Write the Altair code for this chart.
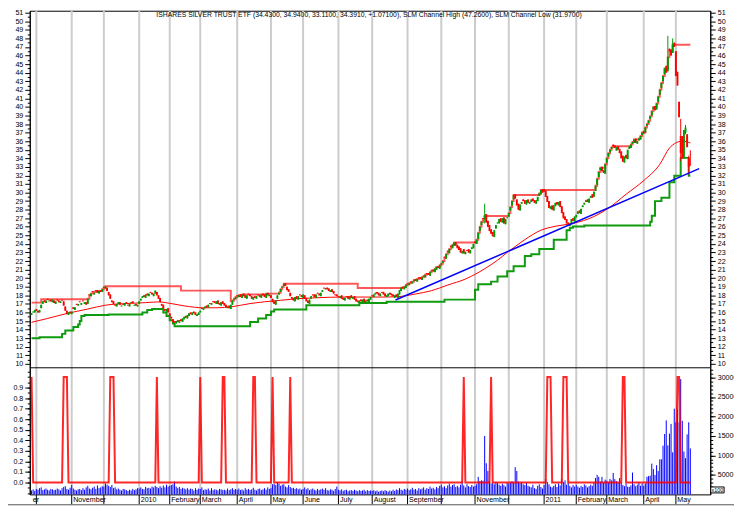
import altair as alt
import pandas as pd

# ---------------- data ----------------
# daily closes, trading-day index 0 .. 410 (28 Sep 2009 .. 13 May 2011)
close = (
    [15.9,16.1,16.3,16.2,16.0,16.3,16.9,17.3,17.2,17.4,17.5,17.4,17.3,17.5,17.1,17.3,17.4,17.2,17.3,17.4,16.8,16.2,15.8,16.0,15.9]
    + [16.1,16.4,16.6,16.9,17.0,17.2,17.1,17.3,17.2,16.9,17.6,18.0,18.2,18.4,18.3,18.5,18.3,18.5,18.4,18.7,18.9,19.05]
    + [18.5,18.0,17.6,17.2,17.0,16.8,17.0,17.2,16.9,16.8,16.9,17.1,17.0,16.8,17.0,17.2,17.1,16.9,16.8,16.9]
    + [17.3,17.6,17.9,17.8,18.1,18.0,18.2,18.3,18.1,18.2,18.55,18.0,17.6,17.2,16.8,16.5,16.2,16.4,16.0]
    + [15.6,15.3,14.9,14.8,15.0,14.9,15.1,15.0,15.3,15.5,15.4,15.7,15.9,15.8,16.0,15.9,15.7,15.8,16.0]
    + [16.2,16.4,16.5,16.7,16.6,16.9,17.0,17.1,17.2,17.1,17.3,17.0,16.9,17.2,17.0,16.8,16.6,16.7,16.5,16.9,17.4,17.6,17.8]
    + [17.9,18.0,17.8,18.1,17.9,17.7,18.0,18.1,17.9,17.6,17.8,17.7,17.9,18.0,17.8,18.1,18.0,17.8,18.2,18.0,18.1]
    + [17.7,17.2,17.0,17.4,18.0,18.3,18.7,19.0,19.35,19.1,18.6,18.4,17.9,17.6,17.4,17.8,17.6,17.9,18.0,17.8]
    + [18.1,17.6,17.3,17.1,17.5,17.9,18.0,17.8,18.1,18.2,18.0,18.3,18.6,18.8,18.85,18.7,18.5,18.6,18.4,18.2,18.0,17.9]
    + [17.8,17.9,17.6,17.5,17.7,17.8,17.6,17.9,17.7,17.8,17.5,17.3,17.2,17.4,17.3,17.5,17.2,17.4,17.3,17.6,17.8]
    + [17.9,18.1,18.3,18.2,18.0,18.2,18.3,18.1,17.9,18.0,18.2,18.1,18.0,17.9,18.0,17.8,18.2,18.6,18.9,18.8,19.0,19.2]
    + [19.3,19.4,19.5,19.6,19.8,19.7,19.9,20.0,19.9,20.1,20.2,20.4,20.5,20.4,20.7,20.9,20.8,21.1,21.3,21.2,21.5]
    + [21.7,22.0,22.4,22.8,23.1,23.4,23.7,23.9,24.17,23.8,23.5,23.3,23.0,23.2,22.9,23.1,23.2,23.0,23.3,23.6,24.0]
    + [24.1,24.5,25.3,26.0,26.6,26.9,27.25,26.5,26.0,25.5,25.2,24.9,25.6,26.2,26.5,26.9,26.6,27.0,26.4,26.9,27.1]
    + [27.6,28.3,29.0,29.71,29.3,28.5,28.0,28.6,28.9,29.0,28.7,29.1,28.8,28.9,29.2,29.0,28.8,29.1,29.5,29.9,30.29,30.0]
    + [30.1,29.5,28.9,28.2,28.4,28.0,28.5,28.8,28.6,28.9,28.3,27.6,27.0,26.8,26.4,26.2,26.4,26.9,26.7,27.2]
    + [27.4,27.8,27.6,28.1,28.5,28.8,29.1,28.9,29.3,29.6,29.4,30.1,30.8,31.6,32.4,32.9,32.5,32.3,33.3]
    + [34.0,34.6,35.0,35.3,35.4,35.2,35.3,35.0,34.6,34.0,33.6,34.2,34.0,35.0,35.4,35.6,35.9,36.2,35.8,36.0,36.3,36.6,37.0]
    + [36.9,37.6,38.0,38.4,38.9,39.5,40.0,39.6,40.4,41.2,42.0,42.8,43.6,44.5,44.0,45.8,46.5,46.0,47.26,47.0]
    + [43.6,42.5,38.8,34.6,34.0,37.3,37.6,35.3,33.0,34.39]
)
# daily opens (estimated, giving the red/green mix seen in the candles)
opens = (
    [15.7,16.0,16.0,16.4,16.2,16.0,16.5,17.0,17.4,17.1,17.6,17.3,17.5,17.2,17.4,17.0,17.5,17.4,17.1,17.5,17.3,16.7,16.2,15.7,16.1]
    + [15.8,16.6,16.3,17.0,16.8,17.3,16.9,17.4,17.0,17.2,17.0,18.1,17.9,18.5,18.1,18.6,18.6,18.2,18.6,18.4,19.0,18.8]
    + [18.9,18.4,18.1,17.4,17.3,16.9,16.7,17.0,17.2,16.7,17.0,16.8,17.2,16.9,16.7,17.1,17.3,16.8,17.0,16.7]
    + [17.0,17.4,17.7,18.0,17.7,18.2,17.9,18.4,18.3,17.9,18.2,18.4,18.0,17.7,17.0,16.9,16.4,16.1,16.5]
    + [15.9,15.5,15.2,15.0,14.7,15.1,14.8,15.2,14.9,15.2,15.6,15.3,15.6,16.0,15.7,16.1,16.0,15.6,15.7]
    + [16.0,16.5,16.3,16.5,16.8,16.6,17.1,16.9,17.3,17.3,17.0,17.4,17.1,16.8,17.3,17.1,16.9,16.5,16.8,16.4,16.9,17.5,17.6]
    + [18.0,17.8,18.1,17.7,18.2,18.0,17.6,18.2,18.1,17.9,17.5,17.9,17.6,18.1,18.0,17.7,18.2,18.1,17.7,18.3,17.9]
    + [18.0,17.6,17.3,16.9,17.6,18.1,18.4,18.9,19.1,19.4,19.0,18.7,18.3,17.8,17.7,17.3,17.9,17.5,18.1,18.0]
    + [17.7,18.0,17.7,17.4,17.0,17.6,18.1,18.1,17.7,18.3,18.2,17.9,18.4,18.9,18.7,18.9,18.8,18.4,18.7,18.5,18.1,18.1]
    + [17.9,17.7,18.0,17.7,17.4,17.9,17.9,17.5,18.0,17.6,17.9,17.6,17.4,17.1,17.5,17.2,17.6,17.1,17.5,17.2,17.5]
    + [18.0,17.8,18.1,18.4,18.3,17.9,18.4,18.4,18.2,17.8,17.9,18.3,18.2,18.1,17.7,18.1,17.7,18.1,18.5,19.0,18.7,18.9]
    + [19.4,19.2,19.6,19.4,19.7,19.9,19.6,20.1,20.1,19.8,20.3,20.1,20.6,20.6,20.3,20.8,21.0,20.7,21.0,21.4,21.1]
    + [21.6,21.8,22.5,22.3,23.2,22.9,23.8,23.5,23.8,24.2,23.9,23.7,23.5,22.9,23.4,22.8,23.3,23.4,22.9,23.4,23.5]
    + [24.3,24.0,24.6,25.5,26.2,27.0,27.0,27.5,26.7,26.2,25.7,25.4,24.8,25.8,26.4,26.4,27.0,26.5,27.1,26.3,27.0]
    + [27.2,27.9,28.5,29.2,29.8,29.2,28.7,27.9,28.7,29.2,29.1,28.6,29.2,28.7,28.9,29.3,29.1,28.7,29.0,29.6,29.8,30.4]
    + [30.4,30.2,29.6,29.0,28.1,28.5,27.9,28.4,28.9,28.5,29.0,28.4,27.7,27.2,26.9,26.5,26.1,26.4,27.0,26.6]
    + [27.1,27.5,27.9,27.5,28.3,28.6,28.9,29.2,28.8,29.4,29.8,29.5,30.2,30.9,31.8,32.6,33.0,32.6,32.2]
    + [33.5,34.2,34.7,35.1,35.6,35.5,34.9,35.4,35.1,34.8,34.3,33.5,34.4,33.9,35.1,35.2,35.7,35.8,36.3,35.7,36.1,36.2,36.7]
    + [37.2,37.0,37.8,38.1,38.6,39.0,39.7,40.1,39.7,40.6,41.4,42.2,43.0,43.8,44.8,44.2,46.8,46.7,46.3,47.5]
    + [46.5,44.1,40.6,36.6,36.6,34.0,37.0,36.8,34.0,34.43]
)
# notable wicks: index, high, low
wick_idx = [282, 396, 399, 404, 407, 409, 410]
wick_high = [28.7, 48.3, 48.0, 38.6, 37.9, 34.3, 34.94]
wick_low = [26.4, 44.1, 46.3, 33.7, 36.8, 32.1, 33.11]

# volume in thousands of the right-axis unit (x100 shares)
volume_k = (
    [1.0,1.3,0.9,1.4,1.2,1.6,1.8,1.1,1.3,1.5,1.2,1.0,1.4,1.3,1.1,1.2,1.5,1.3,1.0,1.6,1.9,2.1,1.4,1.2,1.7]
    + [2.4,1.5,1.2,1.0,1.3,1.4,1.1,1.6,1.2,1.8,2.2,1.5,1.3,1.7,2.0,1.4,2.3,1.6,1.8,2.1,2.0,2.8]
    + [2.5,2.2,1.9,2.4,1.6,1.8,1.3,1.5,1.2,1.0,1.4,1.3,1.1,0.9,1.2,1.0,1.4,1.1,1.3,1.6]
    + [1.5,1.8,1.4,1.3,1.9,1.6,1.7,1.5,2.0,1.8,2.2,1.9,1.6,2.1,1.7,2.3,1.8,2.5,2.0]
    + [2.2,2.4,2.6,3.3,2.0,1.6,1.9,1.4,1.7,1.5,1.3,1.6,1.2,1.5,1.4,1.0,1.6,1.2,1.5]
    + [1.4,1.8,1.1,1.3,1.2,1.5,1.0,1.6,1.1,1.3,1.2,1.0,1.4,1.3,1.1,1.2,1.0,1.5,1.1,1.3,1.6,1.2,1.4]
    + [1.2,1.5,1.1,1.3,1.0,1.6,1.2,1.4,1.1,1.3,1.7,1.2,1.0,1.4,1.5,1.1,1.3,1.6,1.2,1.8,1.4]
    + [1.6,2.6,2.7,2.4,3.2,2.8,2.2,2.5,2.6,2.0,1.8,2.4,1.9,1.6,1.7,1.4,1.6,1.3,1.5,1.2]
    + [1.4,1.8,1.3,1.6,1.1,1.3,1.5,1.2,1.0,1.4,1.1,1.3,1.5,1.2,1.6,1.1,1.0,1.3,1.2,0.9,1.4,2.0]
    + [1.2,1.0,1.3,0.9,1.1,1.2,0.8,1.0,1.1,0.9,1.2,1.0,0.8,1.1,0.9,1.0,1.2,0.8,1.1,0.9,1.0]
    + [0.9,1.1,0.8,1.0,0.7,0.9,1.0,0.8,1.1,0.9,0.7,1.0,0.8,1.2,0.9,1.3,1.1,1.6,1.2,1.0,1.4,1.2]
    + [1.5,1.1,1.3,1.7,1.2,1.4,1.0,1.6,1.3,1.5,1.8,1.2,1.6,1.4,2.0,1.5,1.7,1.3,1.9,1.6,2.2]
    + [2.5,1.8,2.1,1.6,2.3,2.8,2.0,2.4,2.6,1.9,2.2,1.8,2.5,3.4,2.3,1.8,2.6,2.1,1.9,2.4,2.0]
    + [2.2,2.6,4.5,3.4,3.6,3.5,15.0,8.0,6.0,3.5,2.8,3.0,2.6,3.2,2.9,2.5,2.2,2.7,2.4,2.0,3.0]
    + [2.8,3.1,3.4,3.0,7.0,6.0,3.3,2.9,3.2,2.6,2.4,3.0,2.2,2.0,1.8,2.5,1.6,1.4,2.2,2.6,1.9,1.5]
    + [2.4,4.0,3.2,2.6,2.0,1.8,2.2,2.6,1.9,2.8,2.3,4.0,3.2,3.6,2.5,3.0,2.2,1.8,2.4,2.0]
    + [2.5,2.0,1.7,2.2,1.9,2.6,2.3,1.8,2.1,2.5,2.2,3.0,4.2,5.0,4.5,3.3,4.5,3.0,3.8]
    + [3.5,3.2,4.0,3.6,5.5,3.9,3.4,3.0,4.2,3.0,2.4,2.1,2.8,2.0,1.9,2.3,5.6,2.6,2.1,2.5,3.0,2.2,2.8]
    + [2.2,2.8,4.5,4.7,4.8,7.9,6.5,5.0,7.5,6.0,9.0,9.0,12.5,15.5,19.0,12.6,15.6,18.1,10.8,22.0]
    + [18.5,21.8,18.5,29.6,18.9,11.0,9.3,15.4,18.5,11.8]
)

# moving average (thin red), read at these indices
ma_idx = [0,10,22,35,46,60,71,79,88,95,108,116,124,136,145,155,165,175,186,196,208,218,228,239,249,259,270,282,290,296,301,307,317,327,337,350,360,370,381,391,397,401,405,410]
ma_val = [14.85,15.3,15.88,16.4,16.85,17.05,17.15,17.23,17.0,16.77,16.54,16.55,16.65,17.04,17.25,17.42,17.6,17.7,17.78,17.8,17.8,17.8,17.85,18.16,18.55,19.2,19.9,21.1,22.1,23.0,23.7,24.5,25.6,26.1,26.4,27.2,28.3,29.8,31.4,33.3,35.2,35.8,36.0,35.8]

# SLM channel high (red steps)
hi_idx = [0,6,35,36,37,38,40,44,45,46,93,124,125,126,127,128,129,131,146,154,155,156,157,203,230,232,233,234,235,236,237,238,240,241,243,244,245,246,248,249,251,252,254,255,256,257,258,259,260,261,262,263,277,278,279,280,281,282,297,298,299,300,316,317,351,352,353,354,357,358,359,360,361,362,373,374,375,378,379,380,382,383,384,385,386,387,389,390,391,392,393,394,396,397,399,410]
hi_val = [17.15,17.55,17.6,18.0,18.2,18.4,18.5,18.7,18.9,19.05,18.55,17.3,17.4,17.6,17.8,17.9,18.0,18.1,18.2,18.3,18.7,19.0,19.35,18.85,18.9,19.0,19.2,19.3,19.4,19.5,19.6,19.8,19.9,20.0,20.1,20.2,20.4,20.5,20.7,20.9,21.1,21.3,21.5,21.7,22.0,22.4,22.8,23.1,23.4,23.7,23.9,24.17,24.5,25.3,26.0,26.6,26.9,27.25,27.6,28.3,29.0,29.71,29.9,30.29,30.8,31.6,32.4,32.9,33.3,34.0,34.6,35.0,35.3,35.4,35.6,35.9,36.2,36.3,36.6,37.0,37.6,38.0,38.4,38.9,39.5,40.0,40.4,41.2,42.0,42.8,43.6,44.5,45.8,46.5,47.26,47.26]

# SLM channel low (green steps)
lo_idx = [0,5,19,21,26,29,30,31,33,48,69,72,75,82,84,86,88,89,136,141,146,149,151,171,204,221,257,276,278,286,290,296,300,307,311,316,325,333,335,337,344,385,386,388,392,397,400,404,409,410]
lo_val = [13.0,13.1,13.5,13.9,14.3,14.6,15.0,15.6,15.7,15.75,16.0,16.3,16.4,16.0,15.6,15.1,14.7,14.4,14.9,15.3,15.7,16.1,16.35,16.85,17.1,17.25,17.5,18.66,19.3,19.6,20.2,20.8,21.4,22.6,22.8,23.4,24.5,25.6,25.9,26.05,26.15,26.6,27.3,29.0,29.4,31.2,31.95,34.05,31.97,31.97]

# blue trend line
trend_idx = [226.5, 415.5]
trend_val = [17.45, 32.8]

# red signal: days at 1 (first, last inclusive)
pulse_first = [0, 20, 49, 78, 105, 119, 138, 150, 161, 269, 286, 321, 331, 368, 402]
pulse_last = [0, 22, 51, 78, 105, 120, 139, 150, 161, 269, 286, 323, 333, 369, 403]

# month starts (trading-day index) and the labels that are shown
month_idx = [3,25,45,67,86,105,128,149,169,191,212,234,255,276,297,319,339,358,381,401]
label_idx = [-0.2,25,67,86,105,128,149,169,191,212,234,276,319,339,358,381,401]
label_txt = ["er","November","2010","February","March","April","May","June","July","August",
             "September","November","2011","February","March","April","May"]

price_ticks = list(range(10, 52))
price_minor = [v + 0.5 for v in range(9, 52)]
signal_ticks = [0.0,0.1,0.2,0.3,0.4,0.5,0.6,0.7,0.8,0.9]
signal_minor = [round(-0.1 + 0.05 * k, 2) for k in range(24)]
volume_ticks = [5000,10000,15000,20000,25000,30000]
volume_minor = [1000 * k for k in range(1, 33)]
week_ticks = list(range(0, 420, 5))
title_txt = ("ISHARES SILVER TRUST ETF (34.4300, 34.9400, 33.1100, 34.3910, +1.07100), "
             "SLM Channel High (47.2600), SLM Channel Low (31.9700)")

# ---------------- tables ----------------
N = len(close)
assert N == 411 and len(volume_k) == 411 and len(opens) == 411
highs = [max(o, c) for o, c in zip(opens, close)]
lows = [min(o, c) for o, c in zip(opens, close)]
for k, h, l in zip(wick_idx, wick_high, wick_low):
    highs[k] = h
    lows[k] = l
cdf = pd.DataFrame({"i": range(N), "o": opens, "c": close, "h": highs, "l": lows,
                    "d": ["up" if c >= o else "down" for o, c in zip(opens, close)]})
vdf = pd.DataFrame({"i": range(N), "v": [v * 1000 for v in volume_k], "z": 0})
sig = [0] * N
for a, b in zip(pulse_first, pulse_last):
    for k in range(a, b + 1):
        sig[k] = 1
sdf = pd.DataFrame({"i": range(N), "s": sig})
madf = pd.DataFrame({"i": ma_idx, "v": ma_val})
hidf = pd.DataFrame({"i": hi_idx, "v": hi_val})
lodf = pd.DataFrame({"i": lo_idx, "v": lo_val})
tdf = pd.DataFrame({"i": trend_idx, "v": trend_val})
mdf = pd.DataFrame({"i": month_idx})
ldf = pd.DataFrame({"i": label_idx, "t": label_txt})
one = pd.DataFrame({"a": [-1000.0]})

# ---------------- geometry ----------------
W, H = 688, 489
TOP_H = 360.5
X = alt.Scale(domain=[-1.11, 422.4], nice=False, zero=False)
PY = alt.Scale(domain=[9.598, 51.231], range=[TOP_H, 0], nice=False, zero=False)
SY = alt.Scale(domain=[-0.1125, 1.087], range=[H, 361], nice=False, zero=False)
VY = alt.Scale(domain=[0, 32500], range=[H, 361], nice=False, zero=False)
FONT = "Liberation Sans"
AFS = 7.2   # axis labels
TFS = 6.9   # title

def ax(orient, values, fmt=None):
    kw = dict(orient=orient, values=values, title=None, grid=False, labelOverlap=False,
              tickSize=5, labelPadding=2, labelFontSize=AFS, labelFont=FONT, labelColor="black",
              tickColor="black", domainColor="black")
    if fmt:
        kw["format"] = fmt
    return alt.Axis(**kw)

def minor(orient, values):
    return alt.Axis(orient=orient, values=values, title=None, grid=False, labels=False,
                    domain=False, tickSize=2.5, tickColor="black")

def ghost(scale, axis):
    # carries an extra set of axis ticks only
    return alt.Chart(one).mark_point(opacity=0).encode(
        x=alt.value(-50), y=alt.Y("a:Q", scale=scale, axis=axis))

xe = alt.X("i:Q", scale=X, axis=None)

grid = alt.Chart(mdf).mark_rule(color="#cccccc", strokeWidth=2).encode(
    x=alt.X("i:Q", scale=X, axis=alt.Axis(orient="bottom", values=week_ticks, labels=False,
                                          title=None, grid=False, domain=False, tickSize=3,
                                          tickColor="black")),
    y=alt.value(0), y2=alt.value(H))
mticks = alt.Chart(mdf).mark_rule(color="black", strokeWidth=1).encode(
    x=xe, y=alt.value(H), y2=alt.value(H + 10))

lo_line = alt.Chart(lodf).mark_line(color="#109a10", strokeWidth=2, interpolate="step-after").encode(
    x=xe, y=alt.Y("v:Q", scale=PY, axis=None))
hi_line = alt.Chart(hidf).mark_line(color="#ff2020", strokeWidth=2, opacity=0.75,
                                    interpolate="step-after").encode(
    x=xe, y=alt.Y("v:Q", scale=PY, axis=ax("right", price_ticks)))
ma_line = alt.Chart(madf).mark_line(color="#ff0000", strokeWidth=1, interpolate="monotone").encode(
    x=xe, y=alt.Y("v:Q", scale=PY, axis=ax("left", price_ticks)))
ccol = alt.Color("d:N", scale=alt.Scale(domain=["up", "down"], range=["#009a00", "#ff0000"]), legend=None)
wick = alt.Chart(cdf).mark_rule(strokeWidth=1).encode(
    x=xe, y=alt.Y("h:Q", scale=PY, axis=None), y2="l:Q", color=ccol)
body = alt.Chart(cdf).mark_rule(strokeWidth=1.9).encode(
    x=xe, y=alt.Y("o:Q", scale=PY, axis=None), y2="c:Q", color=ccol)
trend = alt.Chart(tdf).mark_line(color="#0000ff", strokeWidth=1.5).encode(
    x=xe, y=alt.Y("v:Q", scale=PY, axis=None))

vol = alt.Chart(vdf).mark_rule(color="#0000ff", strokeWidth=1).encode(
    x=xe, y=alt.Y("v:Q", scale=VY, axis=ax("right", volume_ticks, "d")), y2="z:Q")
sigl = alt.Chart(sdf).mark_line(color="#ff0000", strokeWidth=2, opacity=0.85).encode(
    x=xe, y=alt.Y("s:Q", scale=SY, axis=ax("left", signal_ticks, ".1f")))

g1 = ghost(PY, minor("left", price_minor))
g2 = ghost(PY, minor("right", price_minor))
g3 = ghost(SY, minor("left", signal_minor))
g4 = ghost(VY, minor("right", volume_minor))

divider = alt.Chart(one).mark_rule(color="black", strokeWidth=1).encode(
    x=alt.value(0), x2=alt.value(W), y=alt.value(TOP_H + 0.5))
frame_bottom = alt.Chart(one).mark_rule(color="#555555", strokeWidth=1).encode(
    x=alt.value(-22), x2=alt.value(W + 24), y=alt.value(H + 10.5))
title = alt.Chart(one).mark_text(text=title_txt, font=FONT, fontSize=TFS, baseline="top",
                                 align="center", color="black").encode(
    x=alt.value(W / 2 - 1), y=alt.value(1.5))
xlab = alt.Chart(ldf).mark_text(font=FONT, fontSize=AFS, align="left", baseline="middle",
                                dx=1.5, color="black").encode(
    x=xe, y=alt.value(H + 6), text="t:N")
box = alt.Chart(one).mark_rect(fill="white", stroke="black", strokeWidth=1).encode(
    x=alt.value(W + 0.5), x2=alt.value(W + 14), y=alt.value(H - 7.5), y2=alt.value(H - 1.5))
boxt = alt.Chart(one).mark_text(text="x100", font=FONT, fontSize=5.5, align="center",
                                baseline="middle", color="black").encode(
    x=alt.value(W + 7.2), y=alt.value(H - 4.5))

chart = alt.layer(
    grid, mticks, vol, sigl, lo_line, hi_line, ma_line, wick, body, trend,
    g1, g2, g3, g4, divider, frame_bottom, title, xlab, box, boxt
).resolve_scale(y="independent").resolve_axis(y="independent").properties(
    width=W, height=H,
    padding={"left": 22, "top": 0, "right": 24, "bottom": 11},
    autosize=alt.AutoSizeParams(type="none"),
    background="white",
).configure_view(stroke="black", strokeWidth=1)

chart.save("out.html", embed_options={"renderer": "svg", "actions": False})
